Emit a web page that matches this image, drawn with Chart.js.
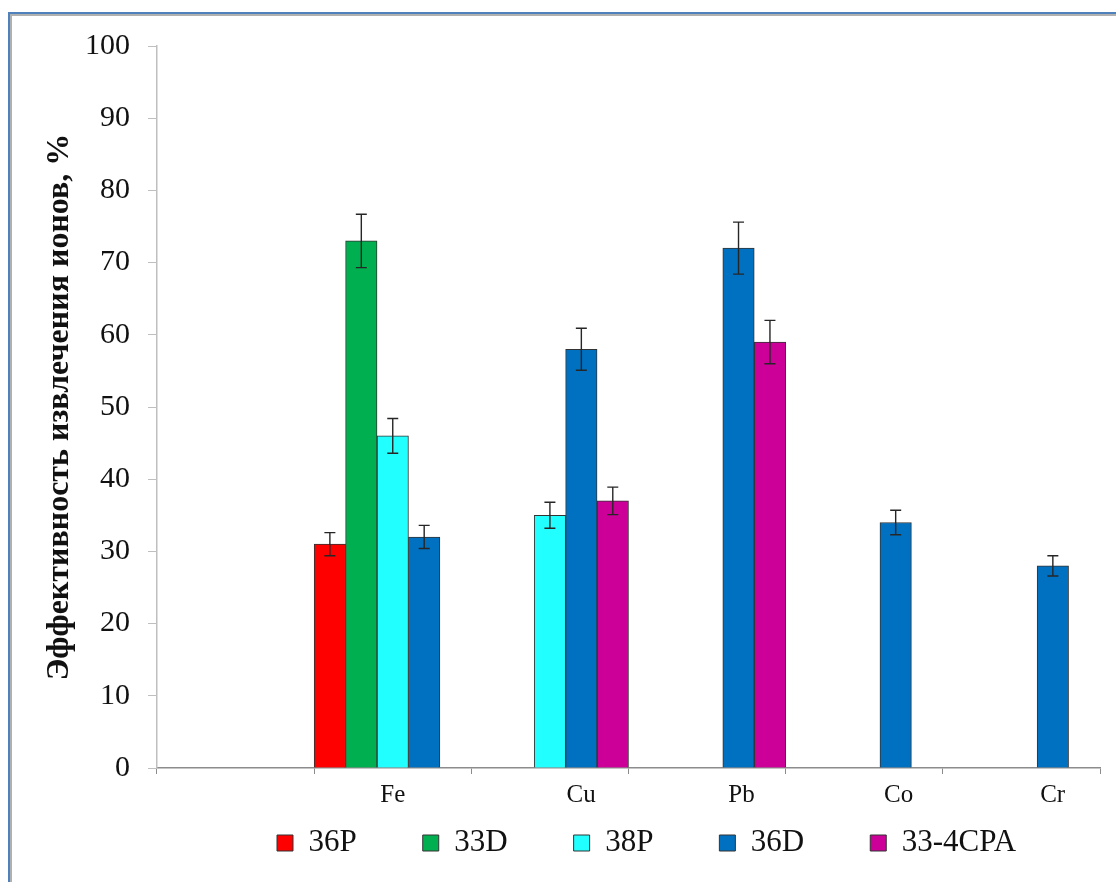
<!DOCTYPE html>
<html><head><meta charset="utf-8">
<script src="https://cdn.jsdelivr.net/npm/chart.js@4.4.1/dist/chart.umd.min.js"></script>
<style>
html,body{margin:0;padding:0;background:#fff;overflow:hidden;}
#wrap{position:relative;width:1116px;height:882px;}
#frame{position:absolute;left:8px;top:12px;width:1200px;height:1000px;border-top:2px solid #4f81bd;border-left:2px solid #4f81bd;box-sizing:border-box;pointer-events:none;}
#frame::after{content:'';position:absolute;left:0;top:0;right:0;bottom:0;border-top:2px solid #b0b0b0;border-left:2px solid #b0b0b0;}
canvas{position:absolute;left:0;top:0;}
</style></head>
<body><div id="wrap"><canvas id="c" width="1116" height="882"></canvas><div id="frame"></div></div>
<script>
// ---- data ----
const categories = ["", "Fe", "Cu", "Pb", "Co", "Cr"];
const seriesNames = ["36P", "33D", "38P", "36D", "33-4CPA"];
const values36P  = [null, 31, null, null, null, null];
const errors36P  = [null, 1.6, null, null, null, null];
const values33D  = [null, 73, null, null, null, null];
const errors33D  = [null, 3.7, null, null, null, null];
const values38P  = [null, 46, 35, null, null, null];
const errors38P  = [null, 2.4, 1.8, null, null, null];
const values36D  = [null, 32, 58, 72, 34, 28];
const errors36D  = [null, 1.6, 2.9, 3.6, 1.7, 1.4];
const values334CPA = [null, null, 37, 59, null, null];
const errors334CPA = [null, null, 1.9, 3.0, null, null];
const yTickValues = [0, 10, 20, 30, 40, 50, 60, 70, 80, 90, 100];
const yTitle = "Эффективность извлечения ионов, %";

// ---- styling ----
const FONT = "'Liberation Serif', 'Times New Roman', serif";
const colors = ["#FF0000", "#00B050", "#22FFFF", "#0070C0", "#CC0099"];
const labelIndent = [0, 0, 10, 11, 11, 10];

const allValues = [values36P, values33D, values38P, values36D, values334CPA];
const allErrors = [errors36P, errors33D, errors38P, errors36D, errors334CPA];

const datasets = seriesNames.map((n, i) => ({
  label: n,
  data: allValues[i],
  errors: allErrors[i],
  backgroundColor: colors[i],
  borderColor: "#333333",
  borderWidth: 1,
  barPercentage: 1,
  categoryPercentage: 1
}));

const errorBars = {
  id: 'errorBars',
  afterDatasetsDraw(chart) {
    const ctx = chart.ctx, y = chart.scales.y;
    chart.data.datasets.forEach((ds, i) => {
      const meta = chart.getDatasetMeta(i);
      ds.data.forEach((v, j) => {
        const e = ds.errors[j];
        if (v == null || e == null) return;
        const x = meta.data[j].x;
        const yt = y.getPixelForValue(v + e), yb = y.getPixelForValue(v - e);
        ctx.save();
        ctx.strokeStyle = '#262626';
        ctx.lineWidth = 1.4;
        ctx.beginPath();
        ctx.moveTo(x, yt); ctx.lineTo(x, yb);
        ctx.moveTo(x - 5.5, yt); ctx.lineTo(x + 5.5, yt);
        ctx.moveTo(x - 5.5, yb); ctx.lineTo(x + 5.5, yb);
        ctx.stroke();
        ctx.restore();
      });
    });
  }
};

const legendPlace = {
  id: 'legendPlace',
  afterLayout(chart) {
    const lg = chart.legend;
    if (!lg || !lg.lineWidths) return;
    const p = lg.options.labels.padding;
    const x0 = (lg.left + p + lg.right - lg.lineWidths[0]) / 2;
    const dx = 277 - x0;
    lg.left += dx; lg.right += dx;
    lg.top = 827.5 - p;
    lg.bottom = chart.height;
  }
};

new Chart(document.getElementById('c'), {
  type: 'bar',
  data: { labels: categories, datasets },
  plugins: [errorBars, legendPlace],
  options: {
    responsive: false,
    animation: false,
    devicePixelRatio: 1,
    layout: { padding: { left: 0, right: 16, top: 46, bottom: 0 } },
    plugins: {
      tooltip: { enabled: false },
      legend: {
        position: 'bottom',
        maxHeight: 40,
        labels: {
          boxWidth: 16, boxHeight: 16, padding: 66,
          font: { family: FONT, size: 31 }, color: '#111'
        }
      }
    },
    scales: {
      x: {
        grid: { offset: true, drawOnChartArea: false, drawTicks: true, tickLength: 6, color: '#8c8c8c' },
        border: { color: '#8c8c8c', width: 1.5 },
        ticks: {
          font: { family: FONT, size: 25 }, color: '#111', padding: 6,
          maxRotation: 0, autoSkip: false,
          callback: (v, i) => ' '.repeat(labelIndent[i]) + categories[i]
        },
        afterFit(s) { s.height = s.chart.height - s.chart.legend.height - 768; }
      },
      y: {
        min: 0, max: 100,
        afterBuildTicks(s) { s.ticks = yTickValues.map(v => ({ value: v })); },
        grid: { drawOnChartArea: false, drawTicks: true, tickLength: 9, color: '#bfbfbf' },
        border: { color: '#bfbfbf', width: 1.5 },
        ticks: { font: { family: FONT, size: 30 }, color: '#111', padding: 18 },
        title: {
          display: true, text: yTitle, color: '#111',
          font: { family: FONT, size: 32, weight: 'bold' },
          padding: { top: 41, bottom: 0 }
        },
        afterFit(s) { s.width = 157; }
      }
    }
  }
});
</script>
</body></html>
